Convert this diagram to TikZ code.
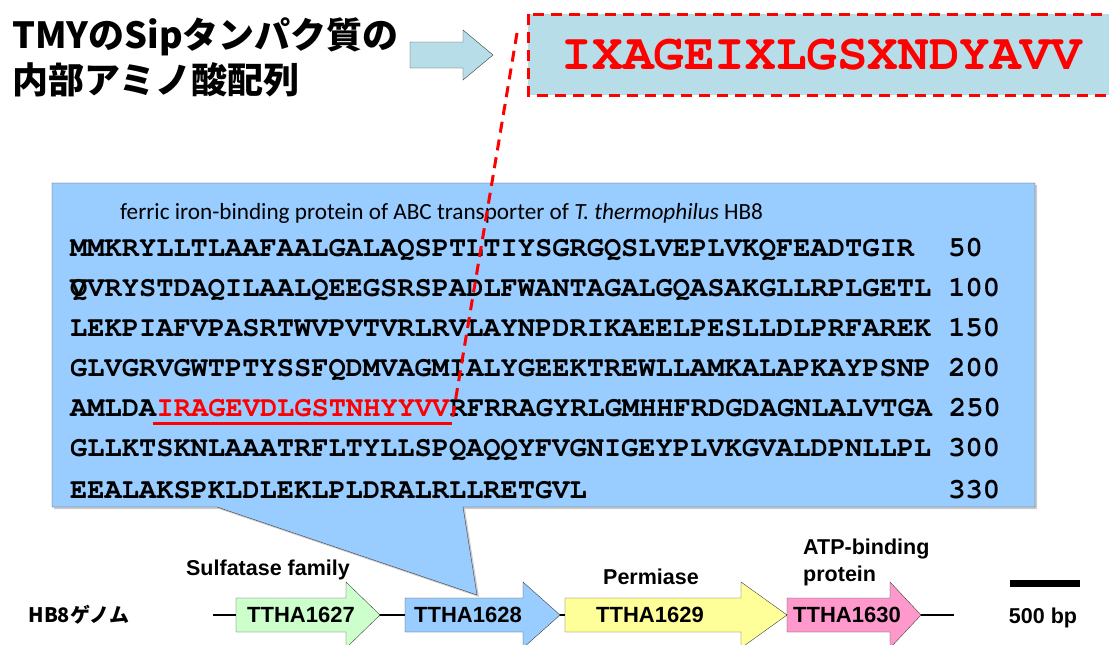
\documentclass[tikz,border=0pt]{standalone}
\usepackage{fontspec}
\setmainfont{Liberation Sans}
\setsansfont{Liberation Sans}
\setmonofont{TeX Gyre Cursor}
\newfontfamily\jpfont{Noto Sans CJK JP}
\newfontfamily\capfont{Carlito}
\usepackage{tikz}
\usetikzlibrary{shadows}

\definecolor{callblue}{RGB}{153,204,255}
\definecolor{paleblue}{RGB}{183,221,232}
\definecolor{genegreen}{RGB}{204,255,204}
\definecolor{geneblue}{RGB}{153,204,255}
\definecolor{geneyellow}{RGB}{255,255,153}
\definecolor{genepink}{RGB}{255,153,204}
\definecolor{edgegray}{RGB}{64,64,64}

\begin{document}
\begin{tikzpicture}[x=1pt, y=-1pt, every node/.style={inner sep=0pt},
        seqrow/.style={anchor=base west, font=\ttfamily\bfseries\fontsize{28.7}{30}\selectfont},
        title/.style={anchor=base west, font=\jpfont\bfseries\fontsize{36}{40}\selectfont},
        genebox/.style={draw=edgegray, thin, line join=miter},
        genelabel/.style={font=\sffamily\bfseries\fontsize{22}{24}\selectfont},
        maplabel/.style={font=\sffamily\bfseries\fontsize{21.5}{27}\selectfont},
        reddash/.style={draw=red, line width=3pt, dash pattern=on 11pt off 7pt}]
    \clip (0,0) rectangle (1109,645);

    % heading and the block arrow
    \node[title] (title1) at (12,48) {TMYのSipタンパク質の};
    \node[title] (title2) at (12,93) {内部アミノ酸配列};
    \draw[fill=paleblue, draw=edgegray] (410,42) -- (463,42) -- (463,30) -- (493,55)
        -- (463,80) -- (463,68) -- (410,68) -- cycle;

    % partial sequence box
    \path[reddash, fill=paleblue] (528,14) rectangle (1130,95);
    \node[text=red, font=\ttfamily\bfseries\fontsize{51}{56}\selectfont] (partial) at (822,55) {IXAGEIXLGSXNDYAVV};

    % callout with the full sequence
    \draw[fill=callblue, draw=edgegray, drop shadow={shadow xshift=2pt, shadow yshift=-2pt, fill=black!40}]
        (52,183) -- (1035,183) -- (1035,507) -- (463,507) -- (477,595) -- (217,507) -- (52,507) -- cycle;
    \node[anchor=base west, font=\capfont\fontsize{23.2}{26}\selectfont] (caption) at (120,219)
        {ferric iron-binding protein of ABC transporter of \textit{T. thermophilus} HB8};
    \node[seqrow] (r1) at (70,256) {MMKRYLLTLAAFAALGALAQSPTLTIYSGRGQSLVEPLVKQFEADTGIR~~50};
    \node[seqrow] (r2) at (70,296) {\makebox[0pt][l]{Q}VVRYSTDAQILAALQEEGSRSPADLFWANTAGALGQASAKGLLRPLGETL~100};
    \node[seqrow] (r3) at (70,336) {LEKPIAFVPASRTWVPVTVRLRVLAYNPDRIKAEELPESLLDLPRFAREK~150};
    \node[seqrow] (r4) at (70,376) {GLVGRVGWTPTYSSFQDMVAGMIALYGEEKTREWLLAMKALAPKAYPSNP~200};
    \node[seqrow] (r5) at (70,416) {AMLDA};
    \node[seqrow, text=red] (hit) at (r5.base east) {IRAGEVDLGSTNHYYVV};
    \node[seqrow] (r5b) at (hit.base east) {RFRRAGYRLGMHHFRDGDAGNLALVTGA~250};
    \node[seqrow] (r6) at (70,456) {GLLKTSKNLAAATRFLTYLLSPQAQQYFVGNIGEYPLVKGVALDPNLLPL~300};
    \node[seqrow] (r7) at (70,498) {EEALAKSPKLDLEKLPLDRALRLLRETGVL~~~~~~~~~~~~~~~~~~~~~330};

    % underline of the hit and the dashed link up to the box
    \coordinate (ulstart) at ([xshift=-4pt, yshift=-7pt]hit.base west);
    \coordinate (ulend) at ([xshift=2pt, yshift=-7pt]hit.base east);
    \draw[red, line width=3pt] (ulstart) -- (ulend);
    \coordinate (dashtop) at (517,33);
    \draw[reddash] (dashtop) -- (ulend);

    % genome map
    \coordinate (bbL) at (213,615);
    \coordinate (bbR) at (954,615);
    \draw[line width=2.5pt] (bbL) -- (bbR);
    \draw[genebox, fill=genegreen] (236,598) -- (346,598) -- (346,582) -- (380,615)
        -- (346,648) -- (346,632) -- (236,632) -- cycle;
    \draw[genebox, fill=geneblue] (405,598) -- (523,598) -- (523,582) -- (560,615)
        -- (523,648) -- (523,632) -- (405,632) -- cycle;
    \draw[genebox, fill=geneyellow] (565,598) -- (741,598) -- (741,582) -- (787,615)
        -- (741,648) -- (741,632) -- (565,632) -- cycle;
    \draw[genebox, fill=genepink] (787,598) -- (890,598) -- (890,582) -- (921,615)
        -- (890,648) -- (890,632) -- (787,632) -- cycle;
    \node[genelabel] (g1627) at (301,615) {TTHA1627};
    \node[genelabel] (g1628) at (468,615) {TTHA1628};
    \node[genelabel] (g1629) at (650,615) {TTHA1629};
    \node[genelabel] (g1630) at (847,615) {TTHA1630};

    \node[maplabel] (sulf) at (268,570) {Sulfatase family};
    \node[maplabel] (perm) at (651,577) {Permiase};
    \node[maplabel, anchor=west, align=left] (atp) at (803,562) {ATP-binding\\protein};
    \node[font=\jpfont\bfseries\fontsize{20}{24}\selectfont] (genome) at (79,615) {HB8ゲノム};

    % scale bar
    \coordinate (sbL) at (1010,583);
    \coordinate (sbR) at (1080,583);
    \draw[line width=7pt] (sbL) -- (sbR);
    \node[maplabel] (scale) at (1043,618) {500 bp};
\end{tikzpicture}
\end{document}
